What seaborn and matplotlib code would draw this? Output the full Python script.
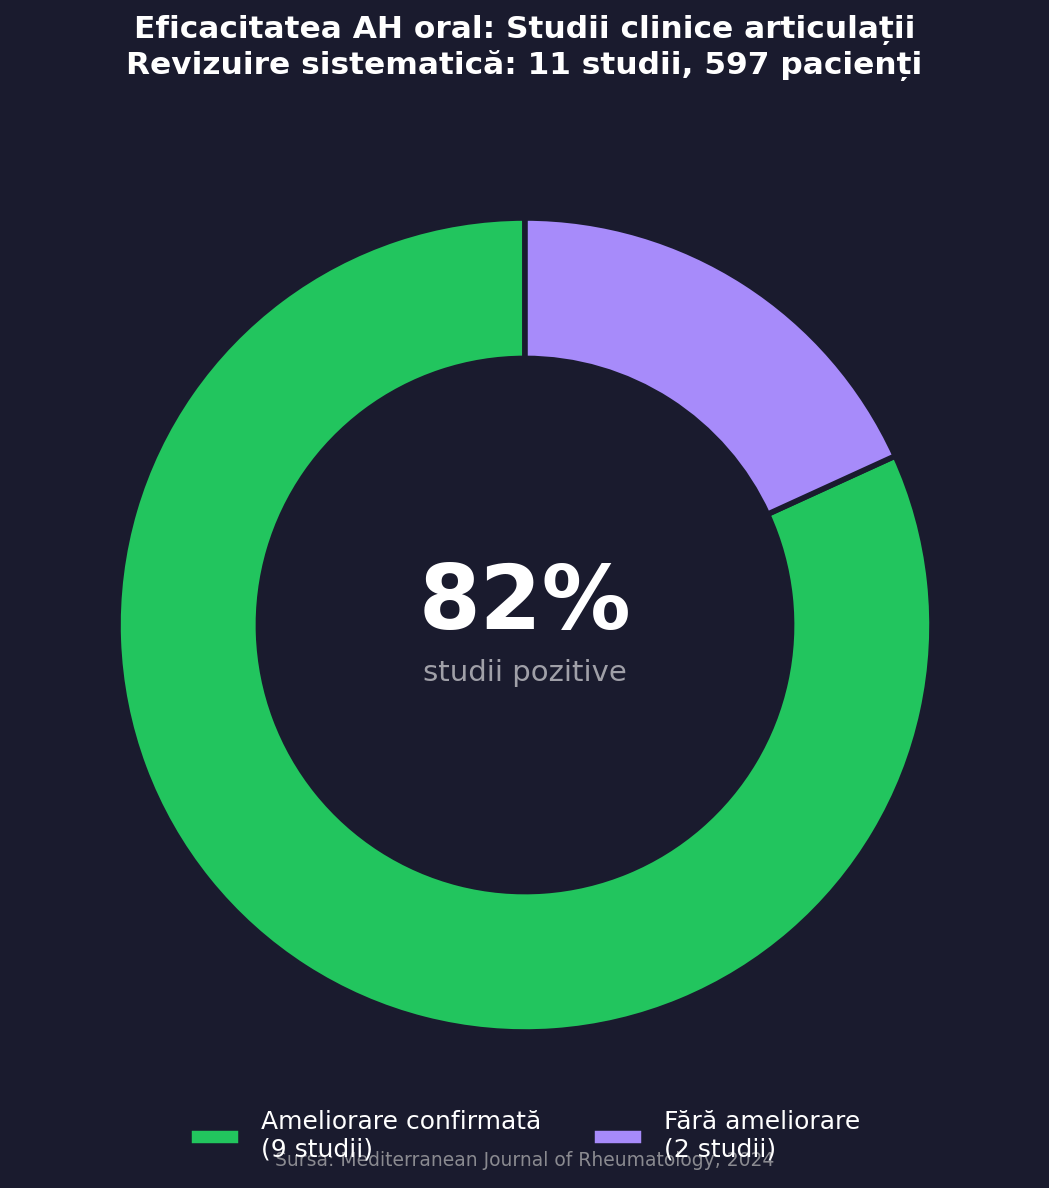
import matplotlib
matplotlib.use("Agg")
import matplotlib.pyplot as plt
import seaborn as sns

categories = ["Ameliorare confirmată\n(9 studii)", "Fără ameliorare\n(2 studii)"]
counts = [9, 2]
colors = ["#22c55e", "#a78bfa"]
center_value = "82%"
center_label = "studii pozitive"
title = "Eficacitatea AH oral: Studii clinice articulații\nRevizuire sistematică: 11 studii, 597 pacienți"
source = "Sursa: Mediterranean Journal of Rheumatology, 2024"

BG = "#1a1b2e"
sns.set_theme(style="white", rc={"figure.facecolor": BG, "axes.facecolor": BG,
                                 "savefig.facecolor": BG})
plt.rcParams["font.family"] = ["DejaVu Sans"]

W, H = 1049, 1188
fig = plt.figure(figsize=(W / 100, H / 100), dpi=100)
cx, cy, r = 525, 625, 407
ax = fig.add_axes([(cx - r) / W, (H - cy - r) / H, 2 * r / W, 2 * r / H])

palette = sns.color_palette(colors)
wedges, _ = ax.pie(counts, colors=palette, startangle=90, radius=1.0,
                   wedgeprops=dict(width=0.345, edgecolor=BG, linewidth=4))
ax.set_xlim(-1, 1)
ax.set_ylim(-1, 1)
ax.set_aspect("equal")
ax.axis("off")

ax.text(0, 0.05, center_value, ha="center", va="center", fontsize=64,
        fontweight="bold", color="white")
ax.text(0, -0.118, center_label, ha="center", va="center", fontsize=21,
        color="#a0a0a8")

fig.suptitle(title, fontsize=22.5, fontweight="bold", color="white", y=1 - 15 / H,
             va="top", linespacing=1.2)

fig.legend(wedges, categories, loc="center", ncol=2,
           bbox_to_anchor=(0.5, 1 - 1136 / H), frameon=False, fontsize=18,
           labelcolor="white", handlelength=2.1, handleheight=0.7,
           handletextpad=0.8, columnspacing=2.0)

fig.text(0.5, 1 - 1161 / H, source, ha="center", va="center", fontsize=13.5,
         color="#8a8a90")

fig.savefig("out.png", dpi=100, facecolor=BG)
